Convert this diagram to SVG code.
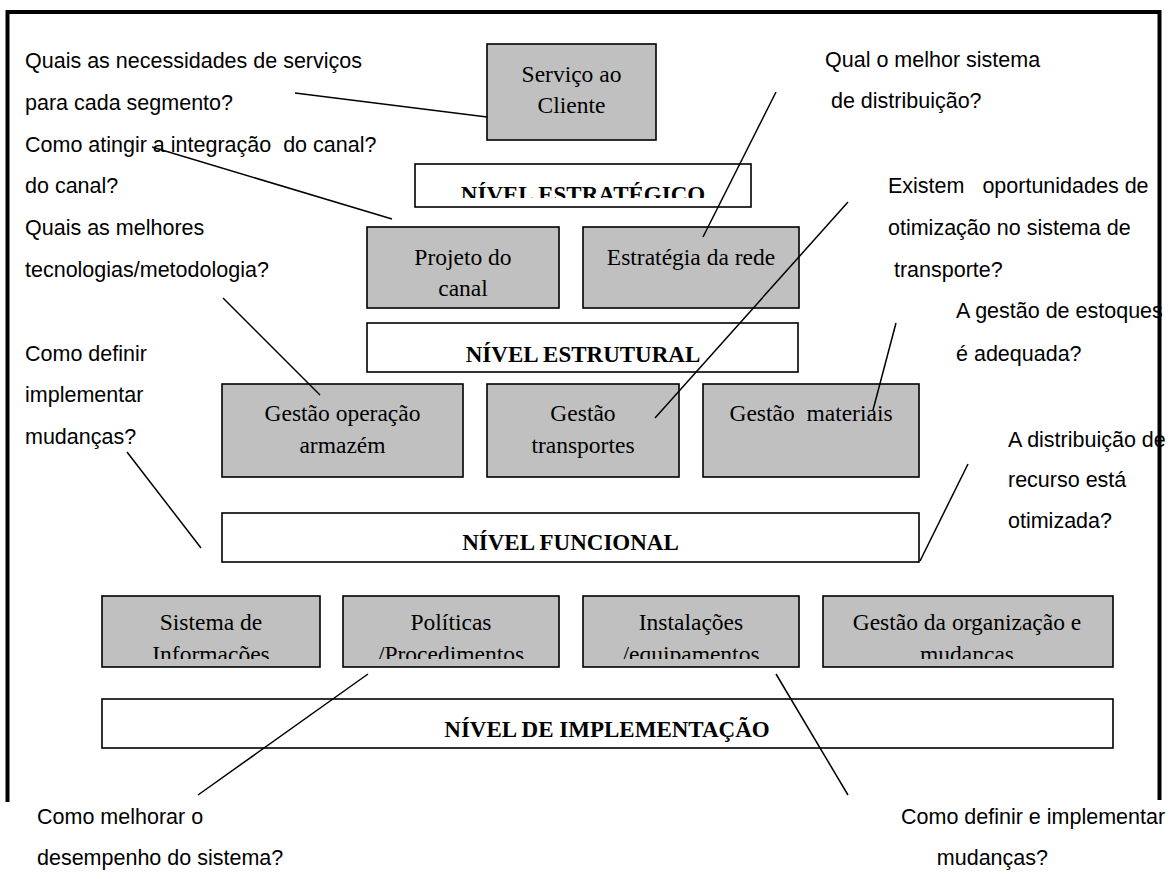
<svg xmlns="http://www.w3.org/2000/svg" width="1172" height="879" viewBox="0 0 1172 879">
  <defs>
    <style>
      .box { fill: #c0c0c0; stroke: #000; stroke-width: 1.6; }
      .lvl { fill: #fff; stroke: #000; stroke-width: 1.6; }
      .node { font-family: "Liberation Serif", "Times New Roman", serif; font-size: 23.5px; fill: #000; text-anchor: middle; white-space: pre; }
      .lvltxt { font-family: "Liberation Serif", "Times New Roman", serif; font-size: 23px; font-weight: bold; fill: #000; text-anchor: middle; }
      .q { font-family: "Liberation Sans", Arial, sans-serif; font-size: 21.5px; fill: #000; white-space: pre; }
      .link { stroke: #000; stroke-width: 1.5; fill: none; }
      .frame { stroke: #000; stroke-width: 4; fill: none; }
    </style>
    <clipPath id="clipEstrategico"><rect x="415" y="164" width="336" height="34"/></clipPath>
    <clipPath id="clipRow4"><rect x="100" y="596" width="1015" height="63"/></clipPath>
  </defs>
  <rect width="1172" height="879" fill="#fff"/>

  <!-- top level -->
  <g id="servico-cliente">
    <rect class="box" x="487" y="44" width="169" height="96"/>
    <text class="node" x="571.5" y="82">Serviço ao</text>
    <text class="node" x="571.5" y="113">Cliente</text>
  </g>
  <g id="nivel-estrategico">
    <rect class="lvl" x="415" y="164" width="336" height="43"/>
    <text class="lvltxt" x="583" y="202" clip-path="url(#clipEstrategico)">NÍVEL ESTRATÉGICO</text>
  </g>
  <g id="projeto-canal">
    <rect class="box" x="367" y="227" width="192" height="81"/>
    <text class="node" x="463" y="265">Projeto do</text>
    <text class="node" x="463" y="296">canal</text>
  </g>
  <g id="estrategia-rede">
    <rect class="box" x="583" y="227" width="216" height="81"/>
    <text class="node" x="691" y="265">Estratégia da rede</text>
  </g>
  <g id="nivel-estrutural">
    <rect class="lvl" x="367" y="323" width="431" height="49"/>
    <text class="lvltxt" x="583" y="362">NÍVEL ESTRUTURAL</text>
  </g>

  <!-- functional row -->
  <g id="gestao-armazem">
    <rect class="box" x="222" y="384" width="241" height="93"/>
    <text class="node" x="342.5" y="421">Gestão operação</text>
    <text class="node" x="342.5" y="453">armazém</text>
  </g>
  <g id="gestao-transportes">
    <rect class="box" x="487" y="384" width="192" height="93"/>
    <text class="node" x="583" y="421">Gestão</text>
    <text class="node" x="583" y="453">transportes</text>
  </g>
  <g id="gestao-materiais">
    <rect class="box" x="703" y="384" width="216" height="93"/>
    <text class="node" x="811" y="421">Gestão  materiais</text>
  </g>
  <g id="nivel-funcional">
    <rect class="lvl" x="222" y="513" width="697" height="49"/>
    <text class="lvltxt" x="570.5" y="550">NÍVEL FUNCIONAL</text>
  </g>

  <!-- implementation row -->
  <g id="sistema-informacoes">
    <rect class="box" x="102" y="596" width="218" height="71"/>
    <text class="node" x="211" y="630">Sistema de</text>
    <text class="node" x="211" y="662" clip-path="url(#clipRow4)">Informações</text>
  </g>
  <g id="politicas">
    <rect class="box" x="343" y="596" width="216" height="71"/>
    <text class="node" x="451" y="630">Políticas</text>
    <text class="node" x="451" y="662" clip-path="url(#clipRow4)">/Procedimentos</text>
  </g>
  <g id="instalacoes">
    <rect class="box" x="583" y="596" width="216" height="71"/>
    <text class="node" x="691" y="630">Instalações</text>
    <text class="node" x="691" y="662" clip-path="url(#clipRow4)">/equipamentos</text>
  </g>
  <g id="gestao-organizacao">
    <rect class="box" x="823" y="596" width="290" height="71"/>
    <text class="node" x="967" y="630">Gestão da organização e</text>
    <text class="node" x="967" y="662" clip-path="url(#clipRow4)">mudanças</text>
  </g>
  <g id="nivel-implementacao">
    <rect class="lvl" x="102" y="699" width="1011" height="49"/>
    <text class="lvltxt" x="607" y="737">NÍVEL DE IMPLEMENTAÇÃO</text>
  </g>

  <!-- questions -->
  <g id="questions">
    <text class="q" x="25" y="68">Quais as necessidades de serviços</text>
    <text class="q" x="25" y="110">para cada segmento?</text>
    <text class="q" x="25" y="152">Como atingir a integração  do canal?</text>
    <text class="q" x="25" y="193">do canal?</text>
    <text class="q" x="25" y="235">Quais as melhores</text>
    <text class="q" x="25" y="277">tecnologias/metodologia?</text>
    <text class="q" x="25" y="361">Como definir</text>
    <text class="q" x="25" y="402">implementar</text>
    <text class="q" x="25" y="444">mudanças?</text>

    <text class="q" x="825" y="67">Qual o melhor sistema</text>
    <text class="q" x="825" y="108"> de distribuição?</text>
    <text class="q" x="888" y="193">Existem   oportunidades de</text>
    <text class="q" x="888" y="235">otimização no sistema de</text>
    <text class="q" x="888" y="277"> transporte?</text>
    <text class="q" x="956" y="318">A gestão de estoques</text>
    <text class="q" x="956" y="361">é adequada?</text>
    <text class="q" x="1008" y="447">A distribuição de</text>
    <text class="q" x="1008" y="487">recurso está</text>
    <text class="q" x="1008" y="528">otimizada?</text>

    <text class="q" x="37" y="824">Como melhorar o</text>
    <text class="q" x="37" y="865">desempenho do sistema?</text>
    <text class="q" x="901" y="824">Como definir e implementar</text>
    <text class="q" x="901" y="865">      mudanças?</text>
  </g>

  <!-- pointer lines from questions to boxes -->
  <g id="connectors">
    <line class="link" x1="295" y1="93" x2="487" y2="117"/>
    <line class="link" x1="152" y1="147" x2="392" y2="219"/>
    <line class="link" x1="776" y1="92" x2="703" y2="237"/>
    <line class="link" x1="848" y1="202" x2="655" y2="418"/>
    <line class="link" x1="896" y1="323" x2="873" y2="410"/>
    <line class="link" x1="223" y1="298" x2="320" y2="395"/>
    <line class="link" x1="127" y1="452" x2="201" y2="548"/>
    <line class="link" x1="968" y1="464" x2="920" y2="561"/>
    <line class="link" x1="368" y1="674" x2="198" y2="795"/>
    <line class="link" x1="776" y1="674" x2="848" y2="795"/>
  </g>

  <!-- outer frame, open at the bottom -->
  <path class="frame" d="M7.5 802 V12 H1159.5 V800"/>
</svg>
